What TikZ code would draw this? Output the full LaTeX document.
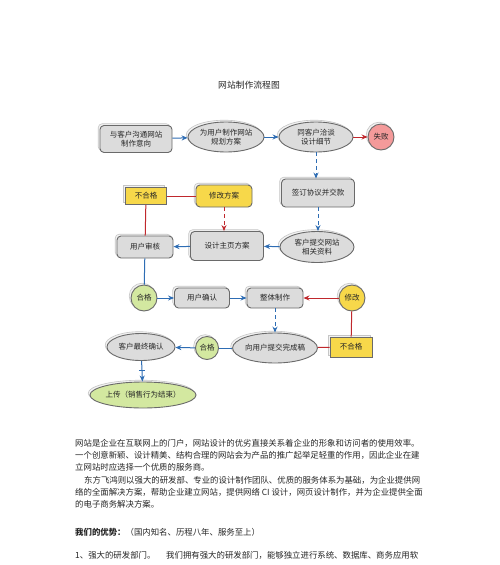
\documentclass[tikz,border=0pt]{standalone}
\usepackage{fontspec}
\setmainfont{Noto Sans CJK SC}
\usetikzlibrary{shapes.geometric,arrows.meta,shadows,calc}
\definecolor{nodegray}{HTML}{DCDCDC}
\definecolor{edgegray}{HTML}{6A6A6A}
\definecolor{yel}{HTML}{F7D84A}
\definecolor{grn}{HTML}{D3E8A0}
\definecolor{rd}{HTML}{F49A9A}
\definecolor{bl}{HTML}{2E6DB4}
\definecolor{rl}{HTML}{C0282D}
\definecolor{txt}{HTML}{262626}
\begin{document}
\begin{tikzpicture}[x=1pt,y=-1pt,
  base/.style={draw=edgegray, line width=0.9pt, text=txt,
    font=\fontsize{7.5}{9.5}\selectfont, align=center, inner sep=0pt,
    general shadow={draw=gray!45, fill=gray!10, line width=0.6pt,
      shadow xshift=-1.8pt, shadow yshift=1.8pt}},
  gbox/.style={base, rectangle, rounded corners=4pt, fill=nodegray},
  gell/.style={base, ellipse, fill=nodegray},
  ybox/.style={base, rectangle, fill=yel},
  yrbox/.style={base, rectangle, rounded corners=4pt, fill=yel},
  ycirc/.style={base, circle, fill=yel, minimum size=26pt},
  gcirc/.style={base, circle, fill=grn, minimum size=26pt},
  gnell/.style={base, ellipse, fill=grn},
  rcirc/.style={base, circle, fill=rd, minimum size=26pt},
  barrow/.style={draw=bl, line width=1pt, -{Stealth[length=6pt,width=5pt]}},
  rarrow/.style={draw=rl, line width=1pt, -{Stealth[length=6pt,width=5pt]}},
  bline/.style={draw=bl, line width=1pt},
  rline/.style={draw=rl, line width=1pt},
  vdash/.style={dash pattern=on 4pt off 3pt},
  para/.style={anchor=west, inner sep=0pt, text=txt, font=\fontsize{8.4}{10}\selectfont}
]
\useasboundingbox[fill=white] (0,0) rectangle (500,565);

\node[text=txt, font=\fontsize{8.8}{10}\selectfont] (title) at (249,85) {网站制作流程图};

% row 1
\node[gbox, minimum width=72pt, minimum height=27pt] (n1) at (136,139) {与客户沟通网站\\制作意向};
\node[gell, minimum width=76pt, minimum height=30pt] (n2) at (226,137) {为用户制作网站\\规划方案};
\node[gell, minimum width=74pt, minimum height=30pt] (n3) at (316,137) {同客户洽谈\\设计细节};
\node[rcirc] (fail) at (381,137) {失败};

% row 2
\node[gbox, minimum width=73pt, minimum height=28pt] (n4) at (318,193) {签订协议并交款};
\node[ybox, minimum width=41pt, minimum height=17pt] (bhg1) at (146,196) {不合格};
\node[yrbox, minimum width=56pt, minimum height=22pt] (xg) at (224,196) {修改方案};
\node[gbox, minimum width=56pt, minimum height=22pt] (sh) at (145,247) {用户审核};
\node[gbox, minimum width=73pt, minimum height=29pt] (sj) at (227,246) {设计主页方案};
\node[gell, minimum width=74pt, minimum height=31pt] (tj) at (317,247) {客户提交网站\\相关资料};

% row 3
\node[gcirc] (hg1) at (144,298) {合格};
\node[gbox, minimum width=55pt, minimum height=20pt] (qr) at (202,298) {用户确认};
\node[gbox, minimum width=56pt, minimum height=20pt] (zt) at (275,298) {整体制作};
\node[ycirc] (xg2) at (352,298) {修改};

% row 4
\node[gell, minimum width=80pt, minimum height=30pt] (wc) at (275,348) {向用户提交完成稿};
\node[ybox, minimum width=42pt, minimum height=20pt] (bhg2) at (351,347) {不合格};
\node[gcirc, minimum size=23pt] (hg2) at (207,348) {合格};
\node[gell, minimum width=68pt, minimum height=27pt] (zz) at (141,347) {客户最终确认};
\node[gnell, minimum width=93pt, minimum height=26pt] (sc) at (143,395) {上传（销售行为结束）};

% connectors
\draw[barrow] (n1) -- (n2);
\draw[barrow] (n2) -- (n3);
\draw[rarrow] (n3) -- (fail);
\draw[barrow, vdash] (n3.south) -- (n3.south |- n4.north);
\draw[rline] (bhg1) -- (xg);
\draw[rline] (bhg1) -- (sh);
\draw[rarrow, vdash] (xg.south) -- (xg.south |- sj.north);
\draw[barrow, vdash] (n4.south) -- (n4.south |- tj.north);
\draw[barrow] (tj) -- (sj);
\draw[barrow] (sj) -- (sh);
\draw[bline] (sh) -- (hg1);
\draw[barrow] (hg1) -- (qr);
\draw[barrow] (qr) -- (zt);
\draw[rarrow] (xg2) -- (zt);
\draw[barrow, vdash] (zt) -- (wc);
\draw[rline] (bhg2) -- (xg2);
\draw[rline] (wc) -- (bhg2);
\draw[bline] (wc) -- (hg2);
\draw[barrow] (hg2) -- (zz);
\draw[barrow] (zz) -- (sc);
\coordinate (tick) at ($(zz.south)!0.45!(sc.north)$);
\draw[bline] ([xshift=-3pt]tick) -- ([xshift=3pt]tick);

% text
\node[para] (p1) at (75,443) {网站是企业在互联网上的门户，网站设计的优劣直接关系着企业的形象和访问者的使用效率。};
\node[para] (p2) at (75,455) {一个创意新颖、设计精美、结构合理的网站会为产品的推广起举足轻重的作用，因此企业在建};
\node[para] (p3) at (75,467) {立网站时应选择一个优质的服务商。};
\node[para] (p4) at (84,480) {东方飞鸿则以强大的研发部、专业的设计制作团队、优质的服务体系为基础，为企业提供网};
\node[para] (p5) at (75,492) {络的全面解决方案，帮助企业建立网站，提供网络 CI 设计，网页设计制作，并为企业提供全面};
\node[para] (p6) at (75,504) {的电子商务解决方案。};
\node[para] (p7) at (75,532) {\bfseries 我们的优势：\mdseries（国内知名、历程八年、服务至上）};
\node[para] (p8) at (75,555) {1、强大的研发部门。};
\node[para] (p9) at (166,555) {我们拥有强大的研发部门，能够独立进行系统、数据库、商务应用软};
\end{tikzpicture}
\end{document}
